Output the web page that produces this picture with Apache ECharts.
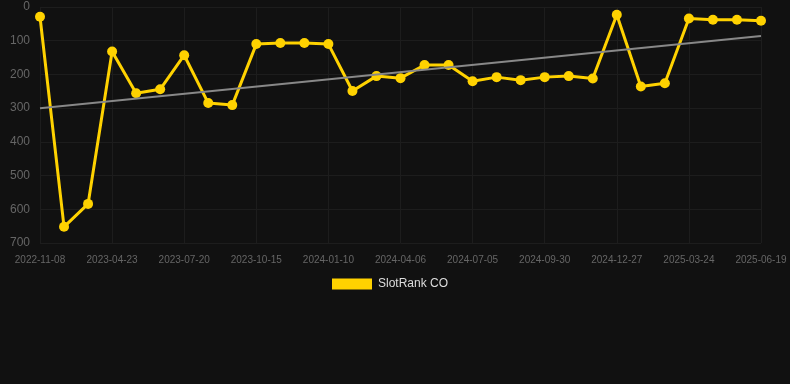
<!DOCTYPE html>
<html><head><meta charset="utf-8">
<script src="https://cdn.jsdelivr.net/npm/echarts@6/dist/echarts.min.js"></script>
<style>html,body{margin:0;padding:0;background:#111111;}#c{width:790px;height:384px;}</style>
</head><body><div id="c"></div>
<script>
const categories = ['2022-11-08','2022-12-30','2023-02-25','2023-04-23','2023-05-22','2023-06-20','2023-07-20','2023-08-18','2023-09-16','2023-10-15','2023-11-13','2023-12-12','2024-01-10','2024-02-08','2024-03-08','2024-04-06','2024-05-06','2024-06-05','2024-07-05','2024-08-02','2024-08-31','2024-09-30','2024-10-29','2024-11-28','2024-12-27','2025-01-25','2025-02-23','2025-03-24','2025-04-22','2025-05-21','2025-06-19'];
const rankValues = [29,652,584,132,256,244,143,285,291,110,107,107,110,249,205,211,172,172,220,208,217,208,205,212,23,236,226,34,38,38,41];
const trendEnds = [300,86];
const seriesName = 'SlotRank CO';

const chart = echarts.init(document.getElementById('c'));
chart.setOption({
  backgroundColor:'#111111',
  animation:false,
  grid:{left:40,right:29,top:7,bottom:141},
  legend:{bottom:94,left:332,padding:0,itemWidth:40,itemHeight:11,itemGap:10,icon:'rect',
    textStyle:{color:'#dddddd',fontSize:12,padding:[0,0,0,1],fontFamily:'Liberation Sans, Arial, sans-serif'},
    data:[seriesName]},
  xAxis:{type:'category',data:categories,boundaryGap:false,
    axisLine:{show:false},axisTick:{show:false},
    axisLabel:{color:'#666666',fontSize:10,margin:12,interval:2,fontFamily:'Liberation Sans, Arial, sans-serif'},
    splitLine:{show:true,interval:2,lineStyle:{color:'#1d1d1d',width:1}}},
  yAxis:{type:'value',inverse:true,min:0,max:700,interval:100,
    axisLine:{show:false},axisTick:{show:false},
    axisLabel:{color:'#666666',fontSize:12,margin:10,fontFamily:'Liberation Sans, Arial, sans-serif'},
    splitLine:{lineStyle:{color:'#1d1d1d',width:1}}},
  series:[{name:seriesName,type:'line',data:rankValues,
    itemStyle:{color:'#ffd200'},lineStyle:{color:'#ffd200',width:3},
    symbol:'circle',symbolSize:10,z:3,
    markLine:{silent:true,symbol:'none',label:{show:false},
      lineStyle:{color:'#888888',width:2,type:'solid'},
      data:[[{coord:[categories[0],trendEnds[0]]},{coord:[categories[categories.length-1],trendEnds[1]]}]]}
  }]
});
</script></body></html>
